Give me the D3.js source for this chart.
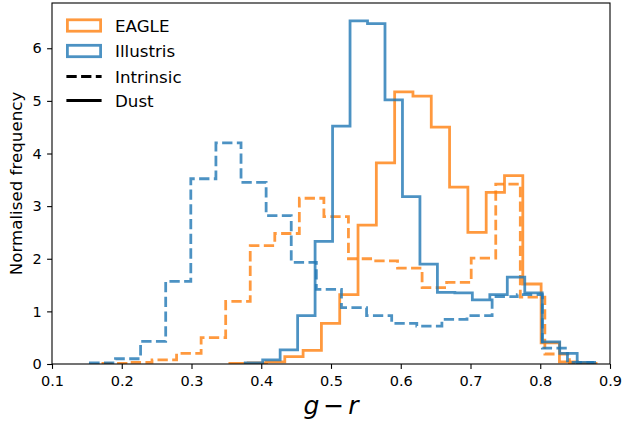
<!DOCTYPE html>
<html>
<head>
<meta charset="utf-8">
<script src="https://cdn.jsdelivr.net/npm/d3@7"></script>
<style>
  html, body { margin: 0; padding: 0; background: #fff; }
  svg { display: block; font-family: "DejaVu Sans", sans-serif; }
</style>
</head>
<body>
<svg id="chart" width="623" height="426"></svg>
<script>
// Normalised g-r colour histograms (20 bins each), EAGLE vs Illustris
const xTicks = [0.1, 0.2, 0.3, 0.4, 0.5, 0.6, 0.7, 0.8, 0.9];
const yTicks = [0, 1, 2, 3, 4, 5, 6];

// bin range [lo, hi] and bin heights for each sample
const eagleIntrinsicRange = [0.173, 0.877];
const eagleIntrinsic = [0.01, 0.03, 0.08, 0.20, 0.50, 1.19, 2.25, 2.48, 3.15, 2.80,
                        2.00, 1.96, 1.82, 1.45, 1.55, 2.01, 3.42, 1.27, 0.19, 0.02];

const eagleDustRange = [0.355, 0.880];
const eagleDust = [0.01, 0.02, 0.04, 0.14, 0.26, 0.77, 1.32, 2.64, 3.82, 5.17,
                   5.09, 4.50, 3.36, 2.50, 3.26, 3.58, 1.52, 0.40, 0.04, 0.01];

const illustrisIntrinsicRange = [0.155, 0.875];
const illustrisIntrinsic = [0.02, 0.10, 0.43, 1.57, 3.52, 4.20, 3.45, 2.82, 1.93, 1.42,
                            1.07, 0.92, 0.77, 0.72, 0.85, 0.92, 1.28, 1.32, 0.30, 0.03];

const illustrisDustRange = [0.377, 0.878];
const illustrisDust = [0.02, 0.08, 0.27, 0.92, 2.33, 4.52, 6.52, 6.47, 5.02, 3.18,
                       1.90, 1.36, 1.35, 1.22, 1.32, 1.65, 1.35, 0.42, 0.20, 0.03];

const legendLabels = ["EAGLE", "Illustris", "Intrinsic", "Dust"];

const ORANGE = "#ff7f0e", BLUE = "#1f77b4";
const LW = 2.78;
const DASH = [10.3, 4.4];

const svg = d3.select("#chart");
const plot = { left: 52, right: 610, top: 3, bottom: 364 };

const x = d3.scaleLinear().domain([0.1, 0.9]).range([plot.left, plot.right]);
const y = d3.scaleLinear().domain([0, 6.86]).range([plot.bottom, plot.top]);

// step outline of a histogram: starts and ends on the baseline
function stepPoints(range, heights) {
  const n = heights.length;
  const w = (range[1] - range[0]) / n;
  const pts = [[range[0], 0]];
  heights.forEach((h, i) => {
    pts.push([range[0] + i * w, h]);
    pts.push([range[0] + (i + 1) * w, h]);
  });
  pts.push([range[1], 0]);
  return pts;
}

const line = d3.line().x(d => x(d[0])).y(d => y(d[1]));

svg.append("defs").append("clipPath").attr("id", "plotclip")
  .append("rect")
  .attr("x", plot.left).attr("y", plot.top)
  .attr("width", plot.right - plot.left).attr("height", plot.bottom - plot.top);

const series = [
  { range: eagleIntrinsicRange, h: eagleIntrinsic, color: ORANGE, dashed: true },
  { range: eagleDustRange, h: eagleDust, color: ORANGE, dashed: false },
  { range: illustrisIntrinsicRange, h: illustrisIntrinsic, color: BLUE, dashed: true },
  { range: illustrisDustRange, h: illustrisDust, color: BLUE, dashed: false }
];

const g = svg.append("g").attr("clip-path", "url(#plotclip)");
series.forEach(s => {
  g.append("path")
    .attr("d", line(stepPoints(s.range, s.h)))
    .attr("fill", "none")
    .attr("stroke", s.color)
    .attr("stroke-opacity", 0.8)
    .attr("stroke-width", LW)
    .attr("stroke-linejoin", "miter")
    .attr("stroke-linecap", "butt")
    .attr("stroke-dasharray", s.dashed ? DASH.join(",") : null);
});

// axes
const xAxis = d3.axisBottom(x).tickValues(xTicks).tickFormat(d3.format(".1f"))
  .tickSizeInner(4.9).tickSizeOuter(0).tickPadding(7);
const yAxis = d3.axisLeft(y).tickValues(yTicks).tickFormat(d3.format("d"))
  .tickSizeInner(4.9).tickSizeOuter(0).tickPadding(5.5);

const gx = svg.append("g").attr("transform", `translate(0,${plot.bottom})`).call(xAxis);
const gy = svg.append("g").attr("transform", `translate(${plot.left},0)`).call(yAxis);
[gx, gy].forEach(a => {
  a.select(".domain").remove();
  a.selectAll("line").attr("stroke", "#000").attr("stroke-width", 1.1);
  a.selectAll("text").attr("fill", "#000").style("font-size", "14.5px")
    .style("font-family", "DejaVu Sans");
});

// frame
svg.append("rect")
  .attr("x", plot.left).attr("y", plot.top)
  .attr("width", plot.right - plot.left).attr("height", plot.bottom - plot.top)
  .attr("fill", "none").attr("stroke", "#000").attr("stroke-width", 1.1);

// axis labels
svg.append("text")
  .attr("transform", `translate(16,${(plot.top + plot.bottom) / 2}) rotate(-90)`)
  .attr("text-anchor", "middle").attr("dominant-baseline", "central")
  .style("font-size", "16.7px").text("Normalised frequency");

const xl = svg.append("text")
  .attr("x", (plot.left + plot.right) / 2).attr("y", 414)
  .attr("text-anchor", "middle").style("font-size", "25px");
xl.append("tspan").style("font-style", "italic").text("g");
xl.append("tspan").attr("dx", 4).text("\u2212");
xl.append("tspan").attr("dx", 4).style("font-style", "italic").text("r");

// legend
const rows = [25.5, 51, 76.5, 100.5];
const lg = svg.append("g");
const hx0 = 67.4, hw = 33.2;
[ORANGE, BLUE].forEach((c, i) => {
  lg.append("rect")
    .attr("x", hx0).attr("y", rows[i] - 5.7)
    .attr("width", hw).attr("height", 11.4)
    .attr("fill", "none").attr("stroke", c).attr("stroke-opacity", 0.8)
    .attr("stroke-width", LW);
});
[true, false].forEach((dashed, j) => {
  const i = j + 2;
  lg.append("line")
    .attr("x1", hx0 - 1).attr("x2", hx0 + hw + 1)
    .attr("y1", rows[i]).attr("y2", rows[i])
    .attr("stroke", "#000").attr("stroke-width", LW)
    .attr("stroke-dasharray", dashed ? DASH.join(",") : null);
});
legendLabels.forEach((t, i) => {
  lg.append("text")
    .attr("x", 115).attr("y", rows[i])
    .attr("dominant-baseline", "central")
    .style("font-size", "16.7px").text(t);
});
</script>
</body>
</html>
